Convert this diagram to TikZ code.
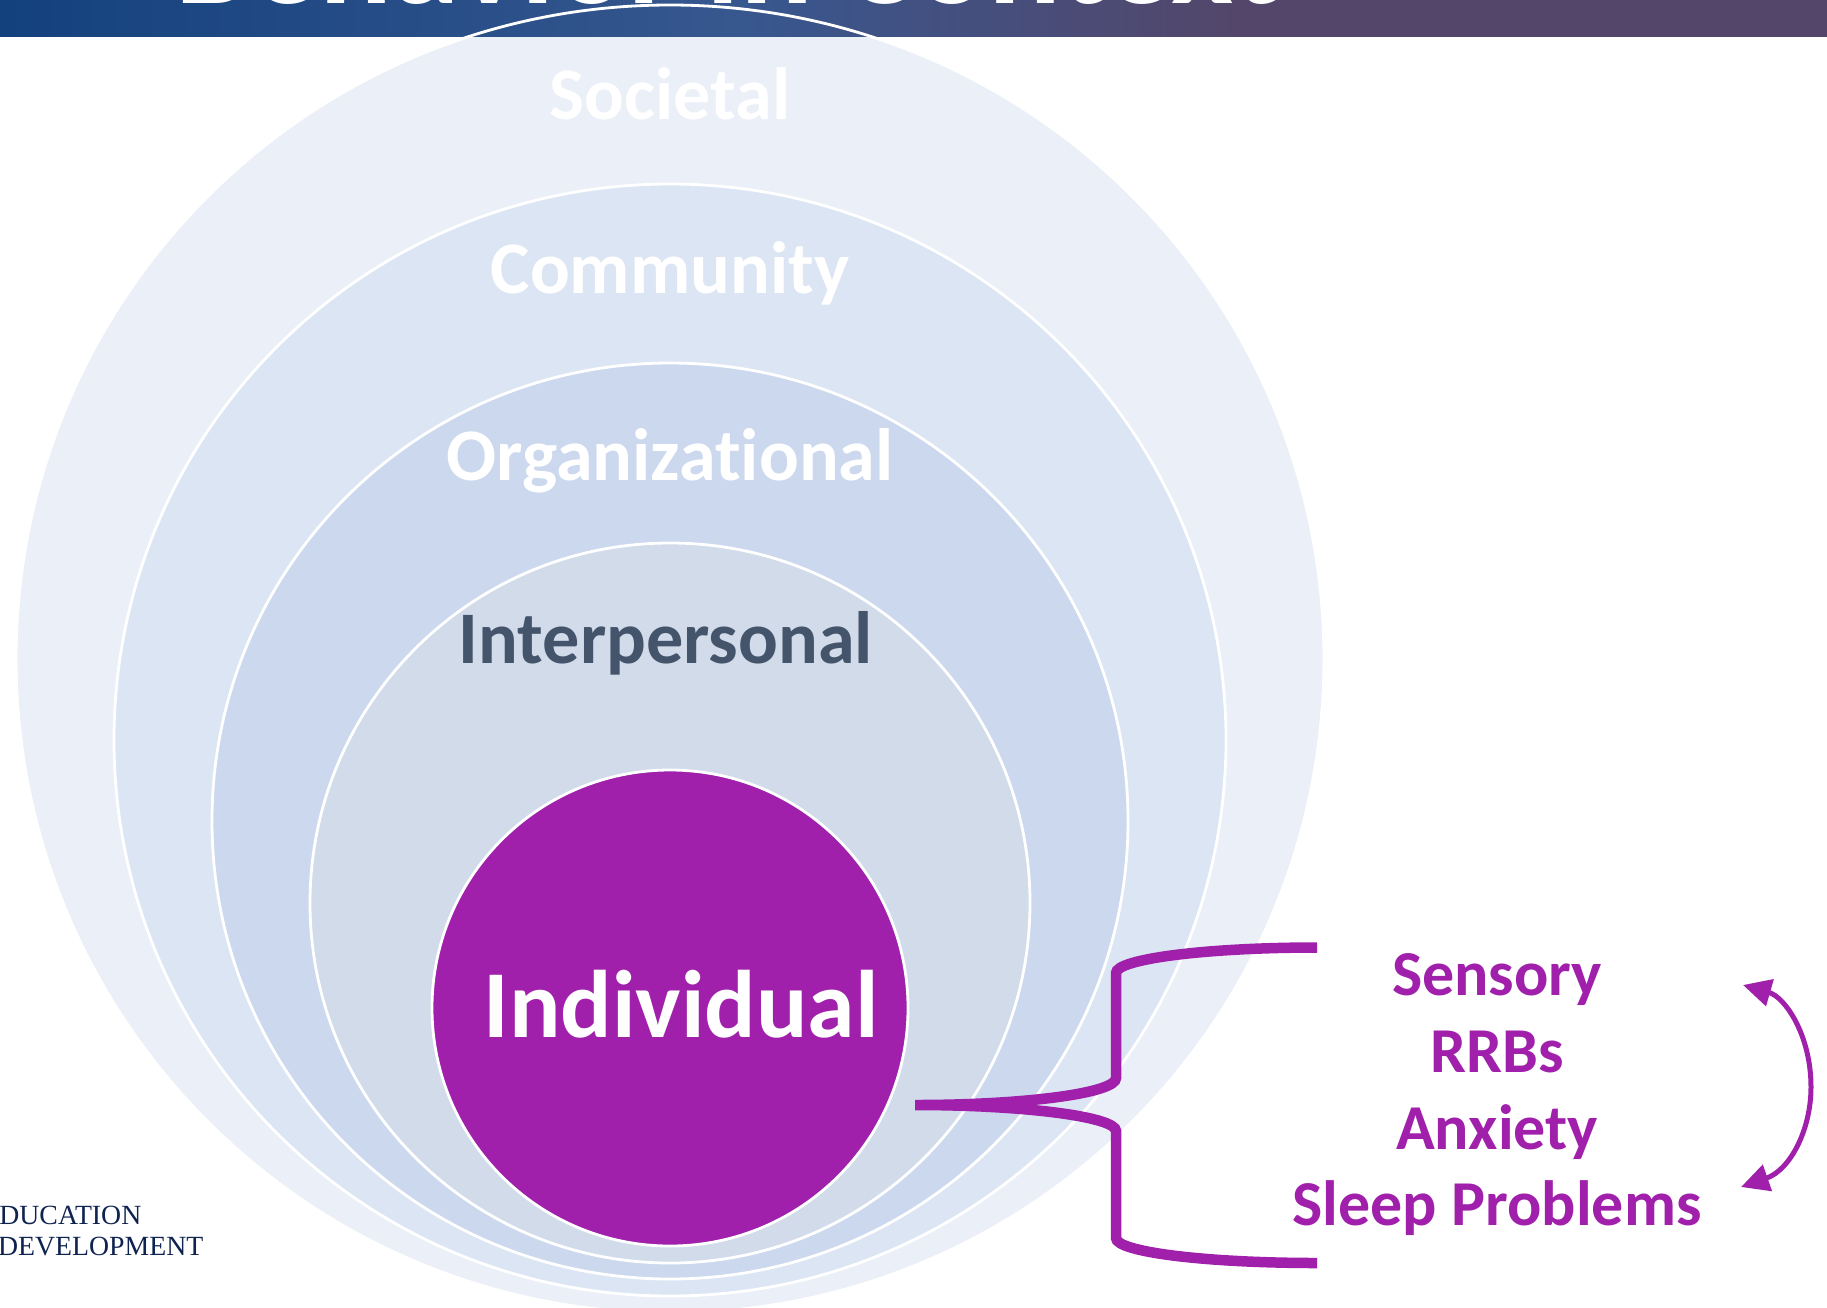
\documentclass[tikz,border=0pt]{standalone}
\usepackage{fontspec}
\setmainfont[Ligatures=NoCommon]{Carlito}
\newfontfamily\logofont{Liberation Serif}
\usetikzlibrary{arrows.meta}
\definecolor{societalblue}{HTML}{EAEFF8}
\definecolor{communityblue}{HTML}{DCE5F3}
\definecolor{orgblue}{HTML}{CBD8EE}
\definecolor{interblue}{HTML}{D1DBEA}
\definecolor{indivpurple}{HTML}{A020AB}
\definecolor{interslate}{HTML}{44546A}
\definecolor{logonavy}{HTML}{0F2350}
\definecolor{bandblue}{HTML}{13417D}
\definecolor{bandmid}{HTML}{37578F}
\definecolor{bandplum}{HTML}{54466A}
\tikzset{
    ring/.style={circle, draw=white, line width=0.028cm, inner sep=0pt, outer sep=0pt},
    ringlabel/.style={font=\fontsize{21.1}{21}\selectfont\bfseries, text=white},
    symptom/.style={font=\fontsize{18.2}{18}\selectfont\bfseries, text=indivpurple},
    logotext/.style={font=\logofont\fontsize{7.9}{8}\selectfont, text=logonavy, anchor=base east, inner sep=0pt}
}
\begin{document}
\begin{tikzpicture}
    \useasboundingbox (0,0) rectangle (18.27,-13.07);
    \clip (0,0) rectangle (18.27,-13.07);

    % Nested circles
    \node[ring, fill=societalblue, minimum size=13.08cm] (societal) at (6.70,-6.59) {};
    \shade[left color=bandblue, right color=bandmid] (0,0) rectangle (7.4,-0.36);
    \shade[left color=bandmid, right color=bandplum] (7.4,0) rectangle (12.4,-0.36);
    \shade[left color=bandplum, right color=bandplum] (12.4,0) rectangle (18.27,-0.36);
    \node[ring, fill=none, minimum size=13.08cm] (societaledge) at (6.70,-6.59) {};
    \node[ring, fill=communityblue, minimum size=11.12cm] (community) at (6.70,-7.40) {};
    \node[ring, fill=orgblue, minimum size=9.16cm] (organizational) at (6.70,-8.21) {};
    \node[ring, fill=interblue, minimum size=7.20cm] (interpersonal) at (6.70,-9.03) {};
    \node[ring, fill=indivpurple, minimum size=4.76cm] (individual) at (6.70,-10.08) {};

    % Header text
    \node[anchor=base, font=\fontsize{38.6}{38}\selectfont\bfseries, text=white] (title) at (7.28,-0.03) {Behavior in Context};

    % Labels
    \node[ringlabel] (societaltext) at (6.70,-0.94) {Societal};
    \node[ringlabel] (communitytext) at (6.70,-2.73) {Community};
    \node[ringlabel] (orgtext) at (6.70,-4.61) {Organizational};
    \node[ringlabel, text=interslate] (intertext) at (6.66,-6.43) {Interpersonal};
    \node[font=\fontsize{27.3}{27}\selectfont\bfseries, text=white] (indivtext) at (6.81,-10.04) {Individual};

    % Symptoms
    \node[symptom] (sensory) at (14.97,-9.80) {Sensory};
    \node[symptom] (rrbs) at (14.97,-10.52) {RRBs};
    \node[symptom] (anxiety) at (14.97,-11.32) {Anxiety};
    \node[symptom] (sleep) at (14.97,-12.08) {Sleep Problems};

    % Brace
    \coordinate (bracetop) at (13.17,-9.475);
    \coordinate (bracetip) at (9.15,-11.05);
    \coordinate (bracebottom) at (13.17,-12.63);
    \draw[indivpurple, line width=0.105cm]
        (bracetop) .. controls (12.06,-9.475) and (11.16,-9.59) .. (11.16,-9.73)
        -- (11.16,-10.78) .. controls (11.16,-10.93) and (10.26,-11.05) .. (bracetip)
        .. controls (10.26,-11.05) and (11.16,-11.17) .. (11.16,-11.31)
        -- (11.16,-12.38) .. controls (11.16,-12.52) and (12.06,-12.63) .. (bracebottom);

    % Double arrow
    \coordinate (arrowtop) at (17.43,-9.85);
    \coordinate (arrowmid) at (18.11,-10.87);
    \coordinate (arrowbottom) at (17.41,-11.87);
    \draw[indivpurple, line width=0.05cm, <->, >={Triangle[length=0.28cm,width=0.27cm]}]
        (arrowtop) .. controls (17.85,-9.97) and (18.11,-10.35) .. (arrowmid)
        .. controls (18.11,-11.30) and (17.90,-11.70) .. (arrowbottom);

    % Logo
    \node[logotext] (logoone) at (1.42,-12.24) {EDUCATION};
    \node[logotext] (logotwo) at (2.04,-12.55) {DEVELOPMENT};
\end{tikzpicture}
\end{document}
